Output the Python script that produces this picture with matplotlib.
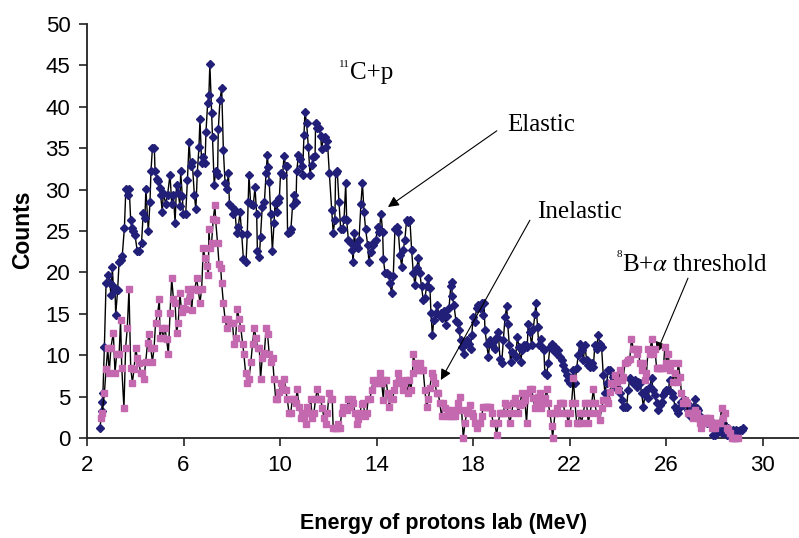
import matplotlib
matplotlib.use('Agg')
import matplotlib.pyplot as plt
from matplotlib import font_manager

# elastic channel (energy in MeV, counts)
elastic_e = [2.54, 2.61, 2.63, 2.66, 2.72, 2.79, 2.86, 2.95, 2.99, 3.05, 3.09, 3.16, 3.19, 3.27, 3.33, 3.41, 3.46, 3.55, 3.61, 3.68,
             3.75, 3.81, 3.85, 3.92, 3.99, 4.08, 4.17, 4.26, 4.33, 4.40, 4.44, 4.54, 4.61, 4.65, 4.71, 4.79, 4.82, 4.89, 4.95, 5.02,
             5.05, 5.12, 5.16, 5.26, 5.34, 5.44, 5.51, 5.58, 5.65, 5.71, 5.78, 5.85, 5.88, 5.95, 5.99, 6.09, 6.16, 6.23, 6.29, 6.36,
             6.45, 6.51, 6.57, 6.64, 6.68, 6.75, 6.82, 6.89, 6.93, 7.00, 7.05, 7.09, 7.16, 7.20, 7.27, 7.33, 7.41, 7.44, 7.51, 7.58,
             7.65, 7.72, 7.79, 7.86, 7.90, 7.99, 8.06, 8.13, 8.20, 8.27, 8.34, 8.41, 8.48, 8.59, 8.64, 8.68, 8.71, 8.78, 8.89, 8.96,
             9.03, 9.06, 9.14, 9.19, 9.26, 9.35, 9.42, 9.47, 9.51, 9.55, 9.61, 9.68, 9.75, 9.79, 9.86, 9.93, 9.97, 10.02, 10.11, 10.16,
             10.23, 10.27, 10.31, 10.41, 10.45, 10.52, 10.58, 10.66, 10.69, 10.76, 10.82, 10.89, 10.93, 10.99, 11.03, 11.10, 11.17, 11.24, 11.31, 11.38,
             11.45, 11.47, 11.54, 11.61, 11.68, 11.72, 11.79, 11.86, 11.90, 11.96, 12.04, 12.14, 12.20, 12.27, 12.30, 12.37, 12.44, 12.51, 12.59, 12.65,
             12.72, 12.76, 12.83, 12.94, 12.99, 13.03, 13.07, 13.14, 13.21, 13.27, 13.35, 13.41, 13.48, 13.54, 13.63, 13.68, 13.76, 13.83, 13.90, 13.97,
             14.04, 14.11, 14.18, 14.25, 14.28, 14.35, 14.44, 14.51, 14.55, 14.62, 14.69, 14.76, 14.83, 14.90, 14.97, 15.04, 15.10, 15.17, 15.24, 15.31,
             15.38, 15.45, 15.52, 15.59, 15.66, 15.73, 15.79, 15.86, 15.93, 16.00, 16.07, 16.14, 16.21, 16.25, 16.31, 16.37, 16.44, 16.51, 16.58, 16.65,
             16.72, 16.79, 16.86, 16.93, 17.00, 17.07, 17.11, 17.13, 17.20, 17.29, 17.36, 17.41, 17.48, 17.55, 17.62, 17.69, 17.76, 17.82, 17.89, 17.94,
             18.00, 18.07, 18.14, 18.21, 18.28, 18.35, 18.39, 18.45, 18.49, 18.56, 18.63, 18.70, 18.76, 18.83, 18.90, 18.97, 19.04, 19.11, 19.18, 19.25,
             19.32, 19.39, 19.43, 19.50, 19.55, 19.62, 19.69, 19.76, 19.83, 19.90, 19.97, 20.03, 20.10, 20.17, 20.24, 20.28, 20.35, 20.42, 20.49, 20.56,
             20.60, 20.67, 20.72, 20.79, 20.86, 20.93, 20.97, 21.04, 21.11, 21.18, 21.25, 21.32, 21.39, 21.46, 21.53, 21.59, 21.66, 21.73, 21.80, 21.87,
             21.94, 22.01, 22.08, 22.15, 22.22, 22.29, 22.35, 22.42, 22.49, 22.56, 22.63, 22.70, 22.77, 22.84, 22.91, 22.98, 23.04, 23.11, 23.18, 23.25,
             23.32, 23.39, 23.46, 23.53, 23.60, 23.66, 23.73, 23.80, 23.87, 23.94, 24.01, 24.08, 24.15, 24.22, 24.29, 24.36, 24.42, 24.49, 24.56, 24.63,
             24.70, 24.77, 24.84, 24.91, 24.98, 25.05, 25.12, 25.18, 25.25, 25.32, 25.39, 25.46, 25.53, 25.60, 25.67, 25.74, 25.81, 25.88, 25.94, 26.01,
             26.08, 26.15, 26.22, 26.29, 26.36, 26.43, 26.50, 26.57, 26.63, 26.70, 26.77, 26.84, 26.91, 26.98, 27.05, 27.12, 27.19, 27.26, 27.32, 27.39,
             27.46, 27.53, 27.60, 27.67, 27.74, 27.81, 27.88, 27.95, 28.02, 28.08, 28.15, 28.22, 28.29, 28.36, 28.43, 28.50, 28.57, 28.64, 28.71, 28.77,
             28.84, 28.91, 28.98, 29.05, 29.12, 29.19]
elastic_counts = [1.2, 3.3, 4.4, 5.4, 11, 18.7, 19.7, 18.7, 17.3, 20.6, 18.3, 17.9, 14.9, 17.9, 21.3, 21.5, 22, 25.4, 30.1, 29.4,
                  30.1, 26.3, 25.4, 25, 24.5, 22.6, 22.6, 23.6, 27.2, 26.6, 30.1, 25, 28.5, 32.2, 35, 35, 32.2, 31.3, 31, 30.2,
                  29.3, 27.3, 29.6, 28.3, 29.4, 31.8, 28.3, 29.3, 26, 30.6, 29.6, 28, 32.2, 29.2, 27.1, 27.1, 31.1, 35.8, 32.8, 33.3,
                  29.3, 27.6, 32, 35.2, 38.5, 33.2, 33.9, 33.2, 37, 40.5, 41.4, 45.2, 39.3, 36.3, 30.6, 32.2, 31.8, 37.3, 40.8, 42.3,
                  34.8, 30.8, 30.1, 32, 28.3, 27.9, 27, 27.5, 24.8, 25.5, 27.3, 24.6, 21.6, 21.3, 24.6, 28.5, 31.8, 28.3, 28.1, 30.3,
                  27, 22.6, 21.8, 24.3, 27.9, 28.5, 32, 34.2, 32.7, 30.9, 27, 22.6, 26, 28.4, 27.3, 28.5, 29, 32, 31.8, 34,
                  32.9, 32.8, 24.8, 24.9, 25.3, 28.2, 29.3, 28.5, 32.2, 34.2, 33.7, 32.9, 31.8, 36.6, 39.4, 38, 35.2, 31.8, 33, 33.9,
                  34, 38, 37.4, 37.4, 36.5, 34.9, 36.2, 36.4, 35.2, 35.9, 32, 27.5, 24.8, 26.3, 32, 32.2, 28.5, 25.3, 25.3, 26.4,
                  30.8, 26.3, 23.9, 23.5, 22.7, 21.3, 24.7, 23.3, 22.9, 23.9, 28.3, 30.8, 27.3, 25.3, 23.3, 21.3, 22.5, 23.3, 23.7, 23.9,
                  25.5, 24.9, 27.1, 24.9, 21.6, 19.9, 19.9, 19.7, 18.7, 17.5, 19.6, 25.3, 25.5, 24.9, 22.1, 20.7, 22.7, 23.9, 26.3, 26.1,
                  26.3, 22.7, 19.9, 18.5, 20.5, 21.7, 19.9, 18.3, 16.7, 16.9, 18.3, 19.3, 18.1, 15.1, 12.4, 14.3, 15.1, 16.1, 14.9, 15.1,
                  14.5, 15.3, 13.7, 14.7, 15.7, 18.3, 18.9, 17.1, 16.1, 14.1, 13.9, 13.1, 11.8, 11, 10.1, 11.4, 11.8, 11.4, 10.8, 12.4,
                  14.6, 14.0, 15.7, 16.1, 15.7, 16.3, 14.8, 16.3, 13.0, 11.4, 9.8, 11.8, 11.2, 11.6, 10.8, 12.2, 12.8, 9.6, 9.0, 11.8,
                  14.6, 15.9, 13.8, 11.2, 9.2, 10.4, 10.2, 9.8, 12.2, 11.0, 9.2, 10.6, 11.2, 11.2, 11.0, 13.8, 12.8, 11.2, 13.2, 15.0,
                  16.3, 13.4, 11.2, 12.0, 11.0, 10.6, 7.8, 7.6, 9.0, 11.0, 11.4, 10.6, 11.0, 10.2, 10.6, 9.8, 9.4, 8.8, 8.2, 7.6,
                  7.0, 6.6, 7.2, 8.2, 6.6, 8.4, 10.0, 11.4, 10.6, 9.4, 11.2, 9.4, 8.8, 8.6, 9.0, 8.6, 11.2, 10.8, 12.4, 11.4,
                  11.0, 7.6, 5.4, 6.6, 8.2, 8.2, 6.6, 7.4, 6.2, 7.0, 6.0, 5.4, 4.6, 3.8, 3.8, 3.8, 5.8, 7.2, 7.0, 6.6,
                  7.0, 6.2, 6.8, 6.6, 5.4, 3.8, 5.2, 5.8, 4.8, 6.2, 7.2, 5.8, 5.2, 4.2, 3.4, 4.0, 4.4, 5.2, 5.6, 5.8,
                  5.8, 7.0, 5.4, 5.0, 3.8, 3.4, 3.0, 3.8, 4.4, 4.0, 4.6, 4.2, 3.4, 2.6, 3.2, 3.8, 4.7, 3.6, 3.4, 2.6,
                  1.6, 1.8, 2.2, 1.8, 2.0, 2.2, 1.6, 0.4, 0.4, 1.6, 1.0, 1.2, 0.6, 1.8, 1.0, 0.4, 1.2, 0.2, 0.8, 1.0,
                  0.8, 1.0, 0.8, 1.0, 1.0, 1.2]

# inelastic channel
inelastic_e = [2.58, 2.63, 2.72, 2.79, 2.86, 2.92, 2.99, 3.09, 3.16, 3.23, 3.33, 3.39, 3.44, 3.53, 3.60, 3.67, 3.74, 3.81, 3.88, 3.95,
               4.02, 4.08, 4.15, 4.22, 4.29, 4.36, 4.43, 4.51, 4.57, 4.64, 4.71, 4.78, 4.84, 4.93, 5.00, 5.02, 5.09, 5.16, 5.23, 5.30,
               5.37, 5.44, 5.51, 5.58, 5.65, 5.71, 5.78, 5.85, 5.92, 5.99, 6.06, 6.13, 6.20, 6.27, 6.34, 6.40, 6.47, 6.54, 6.61, 6.68,
               6.75, 6.82, 6.89, 6.96, 7.03, 7.05, 7.10, 7.16, 7.23, 7.30, 7.33, 7.41, 7.47, 7.54, 7.58, 7.65, 7.72, 7.79, 7.86, 7.92,
               8.03, 8.09, 8.16, 8.23, 8.30, 8.37, 8.45, 8.50, 8.57, 8.64, 8.71, 8.79, 8.86, 8.93, 9.00, 9.07, 9.14, 9.19, 9.26, 9.35,
               9.42, 9.48, 9.55, 9.62, 9.69, 9.75, 9.82, 9.89, 9.97, 10.04, 10.11, 10.18, 10.23, 10.30, 10.37, 10.44, 10.51, 10.58, 10.64, 10.71,
               10.78, 10.85, 10.92, 10.99, 11.06, 11.13, 11.20, 11.27, 11.33, 11.40, 11.47, 11.54, 11.61, 11.68, 11.75, 11.82, 11.89, 11.96, 12.03, 12.09,
               12.16, 12.20, 12.27, 12.34, 12.41, 12.48, 12.55, 12.62, 12.69, 12.76, 12.83, 12.90, 12.96, 13.03, 13.10, 13.17, 13.24, 13.31, 13.38, 13.45,
               13.52, 13.59, 13.65, 13.72, 13.79, 13.86, 13.93, 14.00, 14.07, 14.14, 14.21, 14.28, 14.32, 14.39, 14.46, 14.52, 14.59, 14.66, 14.73, 14.80,
               14.87, 14.94, 15.01, 15.08, 15.15, 15.21, 15.28, 15.35, 15.42, 15.49, 15.52, 15.59, 15.66, 15.73, 15.79, 15.86, 15.93, 16.00, 16.07, 16.14,
               16.21, 16.28, 16.35, 16.42, 16.49, 16.55, 16.62, 16.69, 16.76, 16.83, 16.90, 16.97, 17.04, 17.11, 17.18, 17.24, 17.31, 17.38, 17.45, 17.52,
               17.59, 17.66, 17.73, 17.80, 17.87, 17.94, 18.00, 18.07, 18.14, 18.21, 18.28, 18.35, 18.42, 18.49, 18.56, 18.63, 18.70, 18.76, 18.83, 18.90,
               18.97, 19.04, 19.11, 19.18, 19.25, 19.32, 19.39, 19.45, 19.52, 19.59, 19.66, 19.73, 19.80, 19.87, 19.94, 20.01, 20.08, 20.14, 20.21, 20.28,
               20.35, 20.42, 20.49, 20.56, 20.63, 20.70, 20.77, 20.83, 20.90, 20.97, 21.04, 21.11, 21.18, 21.25, 21.29, 21.39, 21.46, 21.53, 21.59, 21.66,
               21.73, 21.80, 21.87, 21.94, 22.01, 22.08, 22.15, 22.22, 22.29, 22.35, 22.42, 22.49, 22.56, 22.63, 22.70, 22.77, 22.84, 22.91, 22.98, 23.04,
               23.11, 23.25, 23.32, 23.39, 23.46, 23.53, 23.60, 23.66, 23.73, 23.80, 23.87, 23.94, 24.01, 24.08, 24.15, 24.22, 24.29, 24.36, 24.42, 24.49,
               24.56, 24.63, 24.70, 24.77, 24.84, 24.91, 24.98, 25.05, 25.12, 25.18, 25.25, 25.32, 25.39, 25.46, 25.53, 25.60, 25.67, 25.74, 25.81, 25.88,
               25.94, 26.01, 26.08, 26.15, 26.22, 26.29, 26.36, 26.43, 26.50, 26.57, 26.63, 26.70, 26.77, 26.84, 26.91, 26.98, 27.05, 27.12, 27.19, 27.26,
               27.32, 27.39, 27.46, 27.53, 27.60, 27.67, 27.74, 27.81, 27.88, 27.95, 28.02, 28.08, 28.15, 28.22, 28.29, 28.36, 28.43, 28.50, 28.57, 28.64,
               28.71, 28.77, 28.84, 28.91, 28.98]
inelastic_counts = [2.4, 3.0, 5.4, 8.3, 10.9, 7.9, 10.9, 12.7, 7.9, 10.1, 10.1, 14.2, 8.5, 3.6, 10.9, 13.3, 18.0, 8.5, 6.7, 8.3,
                    10.9, 9.7, 9.1, 7.9, 7.9, 7.1, 9.2, 11.5, 12.6, 10.9, 9.2, 10.9, 13.9, 15.1, 16.8, 12.1, 13.3, 12.1, 13.3, 11.9,
                    10.1, 15.1, 19.3, 16.8, 16.3, 12.7, 13.9, 17.5, 15.2, 15.7, 15.6, 16.5, 18.0, 17.3, 15.5, 18.0, 18.0, 19.3, 17.9, 16.3,
                    18.0, 22.9, 21.7, 20.8, 19.7, 25.2, 22.9, 23.5, 26.4, 28.1, 26.3, 23.5, 21.0, 20.5, 18.7, 16.3, 14.4, 13.3, 14.4, 13.9,
                    13.9, 11.4, 12.1, 15.6, 14.4, 13.3, 11.4, 10.1, 7.9, 6.7, 7.1, 9.2, 11.4, 13.3, 12.1, 10.9, 10.9, 7.1, 9.7, 10.3,
                    13.3, 12.6, 10.1, 9.2, 9.7, 7.1, 4.7, 4.7, 5.5, 6.7, 5.9, 7.1, 5.8, 4.7, 3.0, 3.0, 4.7, 4.7, 4.2, 5.9,
                    3.8, 2.4, 3.0, 2.4, 1.7, 3.8, 3.0, 4.7, 2.4, 3.0, 4.7, 5.9, 4.7, 4.7, 3.6, 2.4, 1.7, 3.0, 5.4, 4.7,
                    4.7, 1.2, 1.2, 1.2, 1.7, 1.2, 3.0, 3.8, 3.6, 3.4, 4.7, 3.8, 4.7, 4.2, 3.0, 1.7, 2.3, 3.0, 4.1, 4.2,
                    2.6, 3.0, 4.7, 4.7, 5.8, 7.0, 6.6, 6.6, 7.0, 7.9, 6.6, 4.6, 7.0, 7.0, 5.4, 3.8, 4.7, 4.7, 5.8, 6.6,
                    7.9, 7.0, 6.6, 5.8, 6.6, 7.0, 5.4, 7.0, 5.8, 7.9, 10.1, 9.0, 8.2, 8.2, 9.1, 8.2, 8.2, 5.8, 3.7, 4.7,
                    6.0, 7.9, 7.4, 6.6, 5.4, 5.4, 4.2, 2.6, 4.2, 3.6, 2.6, 3.4, 2.6, 3.4, 2.6, 2.6, 3.4, 4.2, 5.0, 3.4,
                    0, 1.8, 3.0, 3.4, 4.0, 3.0, 2.6, 1.8, 1.2, 1.8, 1.8, 2.6, 3.8, 3.8, 3.8, 3.8, 3.8, 3.0, 1.8, 1.8,
                    0.4, 1.8, 3.0, 3.0, 3.0, 4.2, 4.0, 3.0, 1.8, 3.0, 4.2, 4.8, 4.2, 3.0, 4.0, 5.4, 4.2, 4.6, 1.8, 5.4,
                    5.9, 5.9, 4.8, 3.6, 4.2, 5.0, 5.4, 3.6, 4.2, 4.8, 5.9, 4.2, 3.0, 1.5, 0, 3.0, 3.6, 3.0, 4.2, 4.2,
                    4.2, 3.0, 3.0, 1.8, 3.0, 4.2, 7.2, 4.2, 1.8, 1.8, 3.0, 1.8, 3.0, 4.2, 4.2, 1.8, 3.0, 4.2, 5.9, 4.2,
                    3.0, 2.2, 3.6, 4.6, 4.6, 4.6, 4.2, 5.6, 6.6, 6.5, 7.6, 6.8, 5.8, 8.2, 7.0, 7.4, 9.0, 9.2, 9.4, 9.6,
                    12.0, 10.8, 10.8, 10.2, 10.8, 9.0, 8.2, 9.0, 7.0, 7.8, 10.8, 10.2, 12.0, 10.2, 10.8, 8.4, 8.4, 8.4, 8.4, 8.4,
                    11.0, 9.0, 10.2, 8.2, 9.0, 6.8, 7.8, 6.8, 9.1, 7.4, 5.4, 4.2, 4.6, 4.2, 3.0, 3.0, 3.0, 2.4, 3.4, 3.0,
                    2.4, 1.8, 1.2, 1.8, 2.4, 2.4, 1.8, 2.4, 1.2, 1.8, 1.2, 1.8, 1.8, 1.8, 3.6, 2.4, 3.0, 1.2, 1.0, 0.6,
                    0, 0, 0, 0, 0]

x_ticks = [2, 6, 10, 14, 18, 22, 26, 30]
y_ticks = [0, 5, 10, 15, 20, 25, 30, 35, 40, 45, 50]

navy = '#221f78'
pink = '#c468b0'

names = {f.name for f in font_manager.fontManager.ttflist}
sans = 'Liberation Sans Narrow' if 'Liberation Sans Narrow' in names else 'Liberation Sans'
serif = 'Liberation Serif'

fig = plt.figure(figsize=(7.99, 5.38), dpi=100)
ax = fig.add_axes([87 / 799, 100 / 538, 712 / 799, 414 / 538])

ax.plot(elastic_e, elastic_counts, color='black', lw=1.0, marker='D', ms=4.0,
        mfc=navy, mec=navy, clip_on=False, zorder=3)
ax.plot(inelastic_e, inelastic_counts, color='black', lw=1.0, marker='s', ms=3.8,
        mfc=pink, mec=pink, clip_on=False, zorder=4)

ax.set_xlim(2, 31.5)
ax.set_ylim(0, 50)
ax.set_xticks(x_ticks)
ax.set_yticks(y_ticks)
for s in ['top', 'right']:
    ax.spines[s].set_visible(False)
for s in ['left', 'bottom']:
    ax.spines[s].set_linewidth(1.3)
    ax.spines[s].set_color('#222222')
ax.tick_params(direction='out', length=6, width=1.2, colors='#222222', labelsize=16, pad=6)
for lab in ax.get_xticklabels() + ax.get_yticklabels():
    lab.set_fontfamily(sans)
    lab.set_color('black')

fig.text(23 / 799, 1 - 230 / 538, 'Counts', rotation=90, ha='center', va='center',
         fontsize=16.5, fontweight='bold', family=sans)
fig.text(444 / 799, 1 - 523 / 538, 'Energy of protons lab (MeV)', ha='center', va='center',
         fontsize=15.5, fontweight='bold', family=sans)

# reaction label
ax.text(12.9, 43.3, 'C+p', family=serif, fontsize=18, ha='left', va='baseline')
ax.text(12.9, 45.6, '11', family=serif, fontsize=8, ha='right', va='top')

arrow = dict(arrowstyle='-|>', color='black', lw=0.8, mutation_scale=16, shrinkA=0, shrinkB=0)
ax.annotate('', xy=(14.47, 27.9), xytext=(18.98, 37.1), arrowprops=arrow)
ax.text(19.4, 37.1, 'Elastic', family=serif, fontsize=18, ha='left', va='baseline')

ax.annotate('', xy=(16.66, 7.0), xytext=(20.35, 26.3), arrowprops=arrow)
ax.text(20.64, 26.6, 'Inelastic', family=serif, fontsize=18, ha='left', va='baseline')

ax.annotate('', xy=(25.6, 10.3), xytext=(26.9, 19.3), arrowprops=arrow)
ax.text(24.16, 20.2, r'B+$\alpha$ threshold', family=serif, fontsize=18, ha='left', va='baseline',
        math_fontfamily='stix')
ax.text(24.16, 22.7, '8', family=serif, fontsize=8, ha='right', va='top')

fig.savefig('out.png', dpi=100)
